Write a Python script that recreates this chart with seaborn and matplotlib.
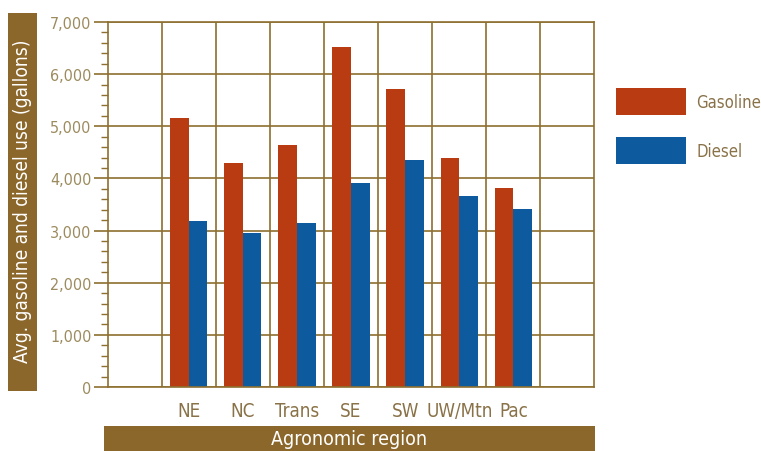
import matplotlib
matplotlib.use("Agg")
import matplotlib.pyplot as plt
import numpy as np
import pandas as pd
import seaborn as sns
from matplotlib.patches import Rectangle

# Average fuel use per farm, by agronomic region (gallons)
regions = ["NE", "NC", "Trans", "SE", "SW", "UW/Mtn", "Pac"]
gasoline = [5150, 4290, 4650, 6520, 5720, 4390, 3820]
diesel = [3180, 2950, 3140, 3910, 4360, 3670, 3410]
fuels = ["Gasoline", "Diesel"]
y_ticks = [0, 1000, 2000, 3000, 4000, 5000, 6000, 7000]

GAS_COLOR = "#B93B12"
DIESEL_COLOR = "#0D5A9F"
GRID_COLOR = "#8D7030"
BOX_COLOR = "#8C672B"
TICK_TEXT = "#9C8B5E"
LABEL_TEXT = "#8A7248"

df = pd.DataFrame({
    "region": regions * 2,
    "fuel": [fuels[0]] * len(regions) + [fuels[1]] * len(regions),
    "gallons": gasoline + diesel,
})

# empty slot on each side of the regions
slots = [" "] + regions + ["  "]

sns.set_style("white")
plt.rcParams["font.family"] = ["DejaVu Sans"]
plt.rcParams["font.stretch"] = "condensed"

fig = plt.figure(figsize=(7.61, 4.52), dpi=100)
ax = fig.add_axes([0.1413, 0.1416, 0.6399, 0.8075])

sns.barplot(data=df, x="region", y="gallons", hue="fuel", order=slots,
            hue_order=fuels, palette=[GAS_COLOR, DIESEL_COLOR], saturation=1,
            width=0.69, errorbar=None, ax=ax, linewidth=0)

ax.set_xlim(-0.5, len(slots) - 0.5)
ax.set_ylim(0, 7000)
ax.set_xticks(range(len(slots)))
ax.set_xticklabels([""] + regions + [""])
ax.set_xticks(np.arange(0.5, len(slots) - 1, 1), minor=True)
ax.set_yticks(y_ticks)
ax.set_yticklabels([f"{v:,}" for v in y_ticks])
ax.set_yticks(np.arange(0, 7001, 200), minor=True)

ax.set_axisbelow(True)
ax.xaxis.grid(True, which="minor", color=GRID_COLOR, linewidth=1.2)
ax.yaxis.grid(True, which="major", color=GRID_COLOR, linewidth=1.2)
ax.xaxis.grid(False, which="major")
for side in ["left", "right", "top", "bottom"]:
    ax.spines[side].set_visible(True)
    ax.spines[side].set_color(GRID_COLOR)
    ax.spines[side].set_linewidth(1.2)

ax.tick_params(axis="x", which="both", length=0, labelsize=13.5,
               labelcolor=LABEL_TEXT, pad=10)
ax.tick_params(axis="y", which="major", length=10, width=1.2, color=GRID_COLOR,
               labelsize=11.5, labelcolor=TICK_TEXT, pad=1.5, left=True)
ax.tick_params(axis="y", which="minor", length=5, width=1.0, color=GRID_COLOR,
               left=True)
ax.set_xlabel("")
ax.set_ylabel("")

handles, labels = ax.get_legend_handles_labels()
ax.legend(handles, labels, loc="upper left",
          bbox_to_anchor=(616 / 761, 1 - 89 / 452), bbox_transform=fig.transFigure,
          frameon=False, fontsize=12, labelcolor=LABEL_TEXT,
          handlelength=4.2, handleheight=2.07, labelspacing=1.36,
          handletextpad=0.6, borderpad=0, borderaxespad=0)

# axis title boxes
fig.add_artist(Rectangle((8 / 761, 1 - 392 / 452), 29 / 761, 378 / 452,
                         transform=fig.transFigure, color=BOX_COLOR, lw=0))
fig.text(22.5 / 761, 1 - 201 / 452, "Avg. gasoline and diesel use (gallons)",
         rotation=90, ha="center", va="center", color="white", fontsize=13.7)
fig.add_artist(Rectangle((104 / 761, 0), 491 / 761, 25 / 452,
                         transform=fig.transFigure, color=BOX_COLOR, lw=0))
fig.text(349.5 / 761, 1 - 440 / 452, "Agronomic region",
         ha="center", va="center", color="white", fontsize=14)

fig.savefig("out.png", dpi=100, facecolor="white")
